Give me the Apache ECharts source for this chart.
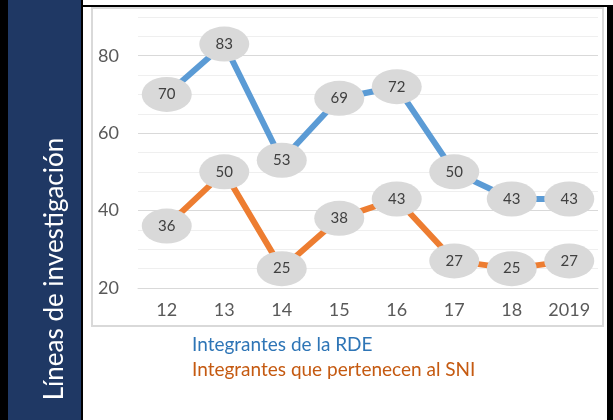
<!DOCTYPE html>
<html>
<head>
<meta charset="utf-8">
<script src="https://cdn.jsdelivr.net/npm/echarts@6/dist/echarts.min.js"></script>
<style>
html,body{margin:0;padding:0;background:#fff;}
#c{width:613px;height:420px;}
</style>
</head>
<body>
<div id="c"></div>
<script>
const categories = ['12', '13', '14', '15', '16', '17', '18', '2019'];
const rdeValues = [70, 83, 53, 69, 72, 50, 43, 43];
const sniValues = [36, 50, 25, 38, 43, 27, 25, 27];
const seriesNames = ['Integrantes de la RDE', 'Integrantes que pertenecen al SNI'];
const sideTitle = 'Líneas de investigación';

const FONT = 'Lato, "Open Sans", sans-serif';
const ellipse = 'path://M0,50 A50,50 0 1,1 100,50 A50,50 0 1,1 0,50 Z';

const chart = echarts.init(document.getElementById('c'), null, {renderer: 'canvas'});

function lineSeries(name, data, color) {
  return {
    name: name,
    type: 'line',
    data: data,
    symbol: ellipse,
    symbolSize: [50, 35],
    showAllSymbol: true,
    lineStyle: {color: color, width: 6},
    itemStyle: {color: '#d9d9d9', borderWidth: 0},
    label: {show: true, position: 'inside', color: '#404040', fontSize: 15, fontFamily: FONT},
    emphasis: {disabled: true},
    animation: false
  };
}

chart.setOption({
  animation: false,
  graphic: [
    {type: 'rect', shape: {x: 0, y: 0, width: 613, height: 420}, style: {fill: '#000'}, z: -10, silent: true},
    {type: 'rect', shape: {x: 83, y: 0, width: 530, height: 5}, style: {fill: '#fff'}, z: -9, silent: true},
    {type: 'rect', shape: {x: 8, y: 0, width: 73, height: 420}, style: {fill: '#1f3864'}, z: -9, silent: true},
    {type: 'rect', shape: {x: 83, y: 7, width: 524, height: 413}, style: {fill: '#fff'}, z: -9, silent: true},
    {type: 'rect', shape: {x: 92, y: 8, width: 511, height: 318}, style: {fill: '#fff', stroke: '#d9d9d9', lineWidth: 2}, z: -8, silent: true},
    {type: 'text', x: 55, y: 269, rotation: Math.PI / 2,
      style: {text: sideTitle, fill: '#fff', font: '26px ' + FONT, textAlign: 'center', textVerticalAlign: 'middle'}, z: 10}
  ],
  grid: {left: 138, right: 15, top: 17, bottom: 132},
  legend: {
    orient: 'vertical', left: 182, top: 330, icon: 'none', itemWidth: 0, itemHeight: 0, itemGap: 6,
    selectedMode: false,
    textStyle: {fontSize: 19, fontFamily: FONT},
    data: [
      {name: seriesNames[0], textStyle: {color: '#2e75b6'}},
      {name: seriesNames[1], textStyle: {color: '#c55a11'}}
    ]
  },
  xAxis: {
    type: 'category',
    data: categories,
    boundaryGap: true,
    axisLine: {show: true, lineStyle: {color: '#d9d9d9', width: 1}},
    axisTick: {show: false},
    axisLabel: {color: '#595959', fontSize: 18, fontFamily: FONT, margin: 13}
  },
  yAxis: {
    type: 'value',
    min: 20, max: 90, interval: 5,
    axisLine: {show: false},
    axisTick: {show: false},
    axisLabel: {color: '#595959', fontSize: 18, fontFamily: FONT, margin: 19,
      formatter: v => (v % 20 === 0 ? String(v) : '')},
    splitLine: {lineStyle: {color: ['#d9d9d9', '#efefef', '#efefef', '#efefef'], width: 1}}
  },
  series: [
    lineSeries(seriesNames[0], rdeValues, '#5b9bd5'),
    lineSeries(seriesNames[1], sniValues, '#ed7d31')
  ]
});
</script>
</body>
</html>
